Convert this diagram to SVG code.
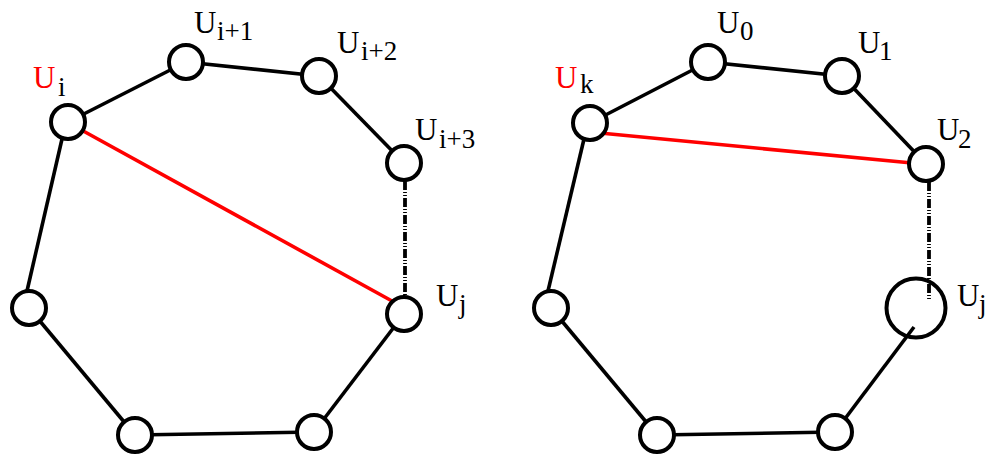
<svg xmlns="http://www.w3.org/2000/svg" width="990" height="454" viewBox="0 0 990 454">
<style>
.e{stroke:#000;stroke-width:3.6;fill:none}
.r{stroke:#ff0000;stroke-width:3.6;fill:none}
.d{stroke:#000;stroke-width:3.8;fill:none;stroke-dasharray:9 2 1 2 1 2}
.n{fill:#fff;stroke:#000;stroke-width:4}
.nb{fill:none;stroke:#000;stroke-width:4}
.red{fill:#ff0000}
</style>
<rect width="990" height="454" fill="#fff"/>
<g id="connectors">
  <line class="e" x1="68" y1="122" x2="186" y2="62"/>
  <line class="e" x1="186" y1="62" x2="319" y2="76"/>
  <line class="e" x1="319" y1="76" x2="404" y2="163"/>
  <line class="d" x1="405" y1="181" x2="405" y2="297"/>
  <line class="e" x1="404" y1="314" x2="314" y2="432"/>
  <line class="e" x1="314" y1="432" x2="135" y2="435"/>
  <line class="e" x1="135" y1="435" x2="29" y2="308"/>
  <line class="e" x1="27" y1="291" x2="62" y2="139"/>
  <line class="r" x1="76" y1="127" x2="392" y2="301"/>
  <line class="e" x1="590" y1="123" x2="708" y2="62"/>
  <line class="e" x1="708" y1="62" x2="842" y2="76"/>
  <line class="e" x1="842" y1="76" x2="926" y2="164"/>
  <line class="d" x1="929" y1="182" x2="929" y2="300"/>
  <line class="e" x1="835" y1="432" x2="914" y2="327"/>
  <line class="e" x1="835" y1="432" x2="657" y2="435"/>
  <line class="e" x1="657" y1="435" x2="551" y2="308"/>
  <line class="e" x1="548" y1="291" x2="584" y2="139"/>
  <line class="r" x1="600" y1="133" x2="912" y2="163"/>
</g>
<g id="labels" font-family="Liberation Serif" font-size="31">
<g id="Ui">
  <circle class="n" cx="68" cy="122" r="17"/>
  <text x="33" y="88"><tspan fill="#ff0000">U</tspan><tspan font-size="27" x="58" y="96">i</tspan></text>
</g>
<g id="Ui1">
  <circle class="n" cx="186" cy="62" r="17"/>
  <text x="194" y="33">U<tspan font-size="27" x="217" y="40">i+1</tspan></text>
</g>
<g id="Ui2">
  <circle class="n" cx="319" cy="76" r="17"/>
  <text x="337" y="53">U<tspan font-size="27" x="361" y="60">i+2</tspan></text>
</g>
<g id="Ui3">
  <circle class="n" cx="404" cy="163" r="17"/>
  <text x="415" y="140">U<tspan font-size="27" x="439" y="148">i+3</tspan></text>
</g>
<g id="Uj_left">
  <circle class="n" cx="404" cy="314" r="17"/>
  <text x="436" y="306">U<tspan font-size="27" x="459" y="313">j</tspan></text>
</g>
<g id="L_left"><circle class="n" cx="29" cy="308" r="17"/></g>
<g id="BL_left"><circle class="n" cx="135" cy="435" r="17"/></g>
<g id="BR_left"><circle class="n" cx="314" cy="432" r="17"/></g>
<g id="Uk">
  <circle class="n" cx="590" cy="123" r="17"/>
  <text x="555" y="88"><tspan fill="#ff0000">U</tspan><tspan font-size="27" x="580" y="93">k</tspan></text>
</g>
<g id="U0">
  <circle class="n" cx="708" cy="62" r="17"/>
  <text x="717" y="33">U<tspan font-size="27" x="740" y="40">0</tspan></text>
</g>
<g id="U1">
  <circle class="n" cx="842" cy="76" r="17"/>
  <text x="858" y="53">U<tspan font-size="27" x="879" y="60">1</tspan></text>
</g>
<g id="U2">
  <circle class="n" cx="926" cy="164" r="17"/>
  <text x="937" y="140">U<tspan font-size="27" x="958" y="148">2</tspan></text>
</g>
<g id="Uj_right">
  <circle class="nb" cx="916" cy="308" r="29.5"/>
  <text x="957" y="306">U<tspan font-size="27" x="979" y="313">j</tspan></text>
</g>
<g id="L_right"><circle class="n" cx="551" cy="308" r="17"/></g>
<g id="BL_right"><circle class="n" cx="657" cy="435" r="17"/></g>
<g id="BR_right"><circle class="n" cx="835" cy="432" r="17"/></g>
</g>
</svg>
